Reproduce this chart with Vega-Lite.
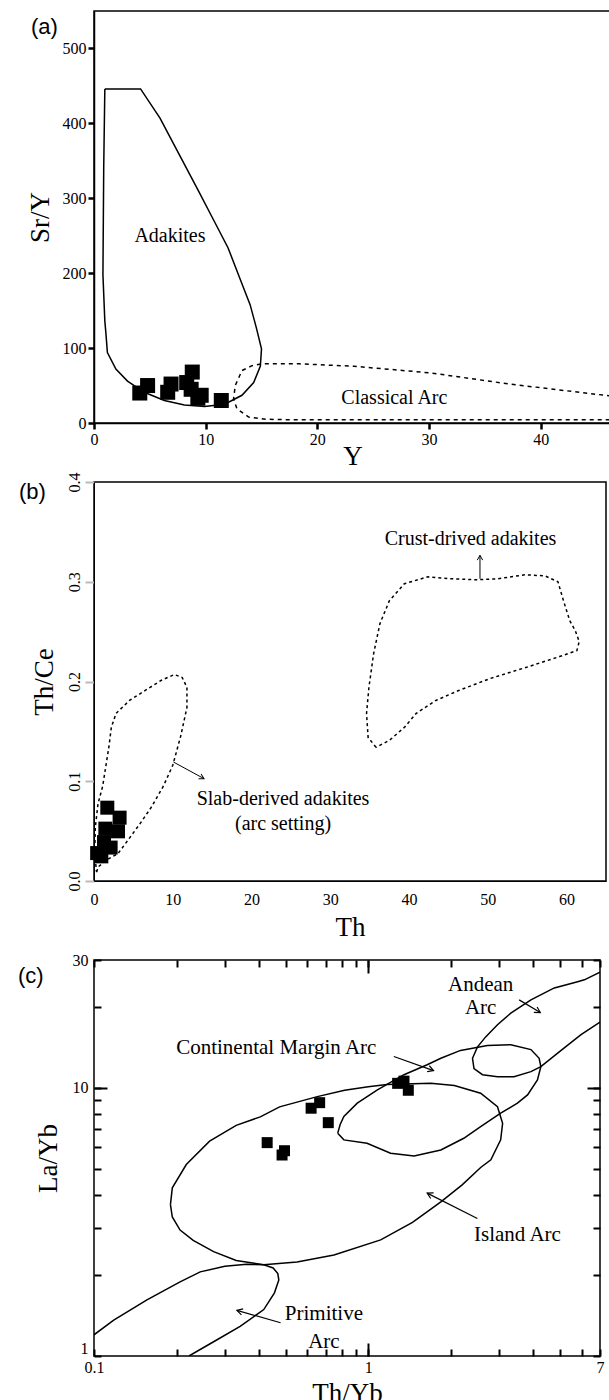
{
"$schema": "https://vega.github.io/schema/vega-lite/v6.json",
"autosize": {"type": "pad"},
"padding": {"left": 17, "top": 10, "right": 0, "bottom": 0},
"bounds": "flush",
"spacing": 59,
"config": {
  "font": "Liberation Serif",
  "view": {"stroke": "#000", "strokeWidth": 1.5},
  "axis": {"labelFont": "Liberation Serif", "titleFont": "Liberation Serif", "labelFontSize": 16, "titleFontSize": 27, "titleFontWeight": "normal", "labelColor": "#000", "titleColor": "#000", "domainColor": "#000", "tickColor": "#000", "ticks": true, "grid": false, "labelFlush": false, "labelOverlap": false},
  "title": {"font": "Liberation Sans", "fontSize": 22, "fontWeight": "normal", "color": "#000", "anchor": "start", "frame": "group"}
},
"datasets": {
  "a_adakite": [
    {"i":0,"x":0.97,"y":446},{"i":1,"x":4.17,"y":446},{"i":2,"x":5.91,"y":407},{"i":3,"x":7.65,"y":358},{"i":4,"x":9.39,"y":309},{"i":5,"x":10.78,"y":269},{"i":6,"x":12.0,"y":234},{"i":7,"x":13.04,"y":194},{"i":8,"x":13.98,"y":158},{"i":9,"x":14.54,"y":127},{"i":10,"x":15.0,"y":99},{"i":11,"x":14.9,"y":76},{"i":12,"x":14.3,"y":54},{"i":13,"x":13.25,"y":37},{"i":14,"x":11.7,"y":25},{"i":15,"x":9.9,"y":22},{"i":16,"x":8.1,"y":24},{"i":17,"x":6.3,"y":30},{"i":18,"x":4.5,"y":41},{"i":19,"x":3.0,"y":56},{"i":20,"x":1.96,"y":72},{"i":21,"x":1.2,"y":94},{"i":22,"x":1.06,"y":121},{"i":23,"x":0.97,"y":136},{"i":24,"x":0.8,"y":198},{"i":25,"x":0.87,"y":340},{"i":26,"x":0.97,"y":446}
  ],
  "a_arc": [
    {"i":0,"x":46.3,"y":36},{"i":1,"x":37.2,"y":52},{"i":2,"x":30.2,"y":66.8},{"i":3,"x":23.3,"y":75.7},{"i":4,"x":18.4,"y":79},{"i":5,"x":15.06,"y":79},{"i":6,"x":14.15,"y":76.5},{"i":7,"x":13.25,"y":70},{"i":8,"x":12.65,"y":50},{"i":9,"x":12.5,"y":32},{"i":10,"x":12.8,"y":19},{"i":11,"x":13.85,"y":8},{"i":12,"x":15.4,"y":5},{"i":13,"x":17.2,"y":4.5},{"i":14,"x":46.3,"y":4.5}
  ],
  "a_pts": [
    {"x":4.1,"y":40},{"x":4.8,"y":50},{"x":6.6,"y":41},{"x":6.9,"y":52},{"x":8.3,"y":54},{"x":8.8,"y":68},{"x":8.7,"y":45},{"x":9.3,"y":33},{"x":9.6,"y":37},{"x":11.4,"y":30}
  ],
  "a_lab": [
    {"x":6.8,"y":249,"t":"Adakites"},{"x":26.9,"y":34,"t":"Classical Arc"}
  ],
  "b_slab": [
    {"i":0,"x":0.34,"y":0.009},{"i":1,"x":0.51,"y":0.014},{"i":2,"x":1.6,"y":0.021},{"i":3,"x":3.05,"y":0.0275},{"i":4,"x":4.32,"y":0.041},{"i":5,"x":5.8,"y":0.057},{"i":6,"x":7.28,"y":0.074},{"i":7,"x":8.8,"y":0.095},{"i":8,"x":10.0,"y":0.116},{"i":9,"x":11.0,"y":0.145},{"i":10,"x":11.8,"y":0.174},{"i":11,"x":11.8,"y":0.194},{"i":12,"x":11.2,"y":0.204},{"i":13,"x":10.2,"y":0.207},{"i":14,"x":8.5,"y":0.201},{"i":15,"x":6.5,"y":0.191},{"i":16,"x":4.5,"y":0.181},{"i":17,"x":2.8,"y":0.168},{"i":18,"x":2.2,"y":0.154},{"i":19,"x":1.9,"y":0.135},{"i":20,"x":1.56,"y":0.118},{"i":21,"x":1.1,"y":0.095},{"i":22,"x":0.51,"y":0.0775},{"i":23,"x":0.17,"y":0.054},{"i":24,"x":0.1,"y":0.03},{"i":25,"x":0.29,"y":0.0107},{"i":26,"x":0.34,"y":0.009}
  ],
  "b_crust": [
    {"i":0,"x":35.8,"y":0.134},{"i":1,"x":34.8,"y":0.144},{"i":2,"x":34.6,"y":0.168},{"i":3,"x":34.9,"y":0.194},{"i":4,"x":35.5,"y":0.228},{"i":5,"x":36.3,"y":0.258},{"i":6,"x":37.5,"y":0.281},{"i":7,"x":39.4,"y":0.298},{"i":8,"x":42.4,"y":0.305},{"i":9,"x":45.3,"y":0.303},{"i":10,"x":48.3,"y":0.302},{"i":11,"x":51.3,"y":0.303},{"i":12,"x":54.7,"y":0.307},{"i":13,"x":57.2,"y":0.306},{"i":14,"x":58.9,"y":0.3},{"i":15,"x":59.6,"y":0.281},{"i":16,"x":60.4,"y":0.261},{"i":17,"x":61.1,"y":0.251},{"i":18,"x":61.6,"y":0.24},{"i":19,"x":61.3,"y":0.231},{"i":20,"x":59.1,"y":0.225},{"i":21,"x":55.2,"y":0.215},{"i":22,"x":50.3,"y":0.203},{"i":23,"x":46.3,"y":0.191},{"i":24,"x":43.4,"y":0.181},{"i":25,"x":40.9,"y":0.168},{"i":26,"x":39.4,"y":0.154},{"i":27,"x":37.5,"y":0.141},{"i":28,"x":35.8,"y":0.134}
  ],
  "b_pts": [
    {"x":1.69,"y":0.0735},{"x":3.25,"y":0.0635},{"x":3.05,"y":0.0498},{"x":1.44,"y":0.0525},{"x":1.27,"y":0.039},{"x":2.11,"y":0.0335},{"x":0.93,"y":0.0247},{"x":0.4,"y":0.028}
  ],
  "b_lab": [
    {"x":47.8,"y":0.343,"t":"Crust-drived adakites"},{"x":24,"y":0.0825,"t":"Slab-derived adakites"},{"x":24,"y":0.0575,"t":"(arc setting)"}
  ],
  "b_arrows": [
    {"a":"crust","x":49.0,"y":0.3265,"xs":49.0,"ys":0.303},
    {"a":"slab","x":13.97,"y":0.1026,"xs":10.08,"ys":0.1193}
  ],
  "c_island": [
    {"i":0,"x":0.19,"y":3.67},{"i":1,"x":0.193,"y":4.24},{"i":2,"x":0.217,"y":5.18},{"i":3,"x":0.264,"y":6.33},{"i":4,"x":0.33,"y":7.25},{"i":5,"x":0.404,"y":7.8},{"i":6,"x":0.475,"y":8.5},{"i":7,"x":0.652,"y":9.28},{"i":8,"x":0.82,"y":9.8},{"i":9,"x":1.0,"y":10.1},{"i":10,"x":1.17,"y":10.3},{"i":11,"x":1.69,"y":10.4},{"i":12,"x":2.06,"y":10.2},{"i":13,"x":2.57,"y":9.55},{"i":14,"x":2.96,"y":8.51},{"i":15,"x":3.09,"y":7.38},{"i":16,"x":3.04,"y":6.4},{"i":17,"x":2.8,"y":5.39},{"i":18,"x":2.57,"y":5.05},{"i":19,"x":2.2,"y":4.35},{"i":20,"x":1.84,"y":3.76},{"i":21,"x":1.45,"y":3.15},{"i":22,"x":1.11,"y":2.71},{"i":23,"x":0.75,"y":2.38},{"i":24,"x":0.55,"y":2.24},{"i":25,"x":0.416,"y":2.19},{"i":26,"x":0.33,"y":2.27},{"i":27,"x":0.273,"y":2.45},{"i":28,"x":0.23,"y":2.7},{"i":29,"x":0.206,"y":2.95},{"i":30,"x":0.193,"y":3.3},{"i":31,"x":0.19,"y":3.67}
  ],
  "c_cm": [
    {"i":0,"x":0.774,"y":6.78},{"i":1,"x":0.79,"y":7.3},{"i":2,"x":0.815,"y":7.82},{"i":3,"x":0.912,"y":8.77},{"i":4,"x":1.08,"y":9.83},{"i":5,"x":1.35,"y":11.2},{"i":6,"x":1.64,"y":12.2},{"i":7,"x":1.84,"y":12.9},{"i":8,"x":2.17,"y":13.8},{"i":9,"x":2.72,"y":14.4},{"i":10,"x":3.31,"y":14.5},{"i":11,"x":3.92,"y":13.9},{"i":12,"x":4.2,"y":12.9},{"i":13,"x":4.26,"y":12.0},{"i":14,"x":4.14,"y":10.7},{"i":15,"x":3.81,"y":9.42},{"i":16,"x":3.5,"y":8.77},{"i":17,"x":3.04,"y":8.05},{"i":18,"x":2.57,"y":7.17},{"i":19,"x":2.23,"y":6.49},{"i":20,"x":1.84,"y":5.87},{"i":21,"x":1.47,"y":5.57},{"i":22,"x":1.206,"y":5.71},{"i":23,"x":0.99,"y":6.22},{"i":24,"x":0.815,"y":6.4},{"i":25,"x":0.774,"y":6.78}
  ],
  "c_andean": [
    {"i":0,"x":7.0,"y":27.0},{"i":1,"x":6.14,"y":25.3},{"i":2,"x":5.8,"y":24.9},{"i":3,"x":4.77,"y":23.6},{"i":4,"x":3.92,"y":21.3},{"i":5,"x":3.31,"y":19.0},{"i":6,"x":2.96,"y":17.2},{"i":7,"x":2.68,"y":15.5},{"i":8,"x":2.5,"y":14.2},{"i":9,"x":2.4,"y":12.9},{"i":10,"x":2.43,"y":11.8},{"i":11,"x":2.61,"y":11.2},{"i":12,"x":2.96,"y":11.0},{"i":13,"x":3.4,"y":11.0},{"i":14,"x":3.92,"y":11.5},{"i":15,"x":4.26,"y":12.0},{"i":16,"x":5.05,"y":13.8},{"i":17,"x":5.97,"y":15.8},{"i":18,"x":7.0,"y":17.6}
  ],
  "c_prim": [
    {"i":0,"x":0.1,"y":1.2},{"i":1,"x":0.118,"y":1.36},{"i":2,"x":0.156,"y":1.62},{"i":3,"x":0.206,"y":1.89},{"i":4,"x":0.244,"y":2.06},{"i":5,"x":0.3,"y":2.16},{"i":6,"x":0.36,"y":2.2},{"i":7,"x":0.416,"y":2.19},{"i":8,"x":0.45,"y":2.13},{"i":9,"x":0.468,"y":2.03},{"i":10,"x":0.472,"y":1.92},{"i":11,"x":0.455,"y":1.72},{"i":12,"x":0.416,"y":1.49},{"i":13,"x":0.341,"y":1.29},{"i":14,"x":0.273,"y":1.13},{"i":15,"x":0.222,"y":1.0}
  ],
  "c_pts": [
    {"x":0.428,"y":6.25},{"x":0.485,"y":5.62},{"x":0.495,"y":5.83},{"x":0.619,"y":8.4},{"x":0.665,"y":8.81},{"x":0.715,"y":7.42},{"x":1.28,"y":10.4},{"x":1.35,"y":10.6},{"x":1.4,"y":9.8}
  ],
  "c_lab": [
    {"x":2.57,"y":24.2,"t":"Andean"},{"x":2.57,"y":19.8,"t":"Arc"},{"x":0.462,"y":14.1,"t":"Continental Margin Arc"},{"x":3.5,"y":2.83,"t":"Island Arc"},{"x":0.689,"y":1.44,"t":"Primitive"},{"x":0.689,"y":1.13,"t":"Arc"}
  ],
  "c_arrows": [
    {"a":"andean","x":4.24,"y":19.1,"xs":3.55,"ys":21.3},
    {"a":"cm","x":1.73,"y":11.6,"xs":1.24,"ys":13.1},
    {"a":"island","x":1.64,"y":4.05,"xs":2.5,"ys":3.26},
    {"a":"prim","x":0.332,"y":1.48,"xs":0.479,"ys":1.33}
  ]
},
"vconcat": [
  {
    "width": 517, "height": 412,
    "title": {"text": "(a)", "dx": -63, "dy": 28, "offset": 0},
    "encoding": {
      "x": {"field": "x", "type": "quantitative", "scale": {"domain": [0, 46.3], "nice": false, "zero": false},
            "axis": {"values": [0,10,20,30,40], "title": "Y", "tickSize": 6, "tickWidth": 2.5, "domainWidth": 1.5, "labelPadding": 2, "titlePadding": -4}},
      "y": {"field": "y", "type": "quantitative", "scale": {"domain": [0, 550], "nice": false, "zero": false},
            "axis": {"values": [0,100,200,300,400,500], "title": "Sr/Y", "tickSize": 6, "tickWidth": 2.5, "domainWidth": 1.5, "labelPadding": 2, "titlePadding": 8}}
    },
    "layer": [
      {"data": {"name": "a_adakite"}, "mark": {"type": "line", "color": "#000", "strokeWidth": 1.5, "clip": true}, "encoding": {"order": {"field": "i", "type": "quantitative"}}},
      {"data": {"name": "a_arc"}, "mark": {"type": "line", "color": "#000", "strokeWidth": 1.5, "strokeDash": [4, 4], "clip": true}, "encoding": {"order": {"field": "i", "type": "quantitative"}}},
      {"data": {"name": "a_pts"}, "mark": {"type": "point", "shape": "square", "filled": true, "size": 225, "color": "#000", "opacity": 1}},
      {"data": {"name": "a_lab"}, "mark": {"type": "text", "font": "Liberation Serif", "fontSize": 20, "color": "#000"}, "encoding": {"text": {"field": "t"}}}
    ]
  },
  {
    "bounds": "flush",
    "spacing": 79,
    "vconcat": [
      {
        "width": 512, "height": 399,
        "title": {"text": "(b)", "dx": -75, "dy": 32, "offset": 0},
        "encoding": {
          "x": {"field": "x", "type": "quantitative", "scale": {"domain": [0, 65], "nice": false, "zero": false},
                "axis": {"values": [0,10,20,30,40,50,60], "title": "Th", "ticks": false, "labelPadding": 10, "titlePadding": 7}},
          "y": {"field": "y", "type": "quantitative", "scale": {"domain": [0, 0.4], "nice": false, "zero": false},
                "axis": {"values": [0,0.1,0.2,0.3,0.4], "format": ".1f", "title": "Th/Ce", "labelAngle": -90, "labelAlign": "center", "labelBaseline": "bottom", "tickColor": "#bbbbbb", "tickSize": 9, "tickWidth": 2, "labelPadding": 3, "titlePadding": 8}}
        },
        "layer": [
          {"data": {"name": "b_slab"}, "mark": {"type": "line", "color": "#000", "strokeWidth": 1.5, "strokeDash": [3, 3], "clip": true}, "encoding": {"order": {"field": "i", "type": "quantitative"}}},
          {"data": {"name": "b_crust"}, "mark": {"type": "line", "color": "#000", "strokeWidth": 1.5, "strokeDash": [3, 3], "clip": true}, "encoding": {"order": {"field": "i", "type": "quantitative"}}},
          {"data": {"name": "b_pts"}, "mark": {"type": "point", "shape": "square", "filled": true, "size": 196, "color": "#000", "opacity": 1}},
          {"data": {"name": "b_arrows"}, "mark": {"type": "rule", "color": "#000", "strokeWidth": 1}, "encoding": {"x2": {"field": "xs"}, "y2": {"field": "ys"}}},
          {"data": {"name": "b_arrows"}, "transform": [{"filter": "datum.a == 'crust'"}], "mark": {"type": "point", "shape": "M-1.6,-0.9L0,0L-1.6,0.9", "filled": false, "size": 36, "angle": 270, "color": "#000", "strokeWidth": 1, "opacity": 1}},
          {"data": {"name": "b_arrows"}, "transform": [{"filter": "datum.a == 'slab'"}], "mark": {"type": "point", "shape": "M-1.6,-0.9L0,0L-1.6,0.9", "filled": false, "size": 36, "angle": 28, "color": "#000", "strokeWidth": 1, "opacity": 1}},
          {"data": {"name": "b_lab"}, "mark": {"type": "text", "font": "Liberation Serif", "fontSize": 20, "color": "#000"}, "encoding": {"text": {"field": "t"}}}
        ]
      },
      {
        "width": 506, "height": 396,
        "title": {"text": "(c)", "dx": -76, "dy": 36, "offset": 0},
        "resolve": {"axis": {"x": "independent", "y": "independent"}},
        "encoding": {
          "x": {"field": "x", "type": "quantitative", "scale": {"type": "log", "domain": [0.1, 7], "nice": false}, "axis": null},
          "y": {"field": "y", "type": "quantitative", "scale": {"type": "log", "domain": [1, 30], "nice": false}, "axis": null}
        },
        "layer": [
          {"data": {"name": "c_island"}, "mark": {"type": "line", "color": "#000", "strokeWidth": 1.5, "clip": true},
           "encoding": {
             "order": {"field": "i", "type": "quantitative"},
             "x": {"field": "x", "type": "quantitative", "axis": {"orient": "bottom", "title": "Th/Yb", "values": [0.1,0.2,0.3,0.4,0.5,0.6,0.7,0.8,0.9,1,2,3,4,5,6,7], "labelExpr": "datum.value == 0.1 ? '0.1' : datum.value == 1 ? '1' : datum.value == 7 ? '7' : ''", "offset": -7, "tickSize": 7, "tickWidth": 2, "domain": false, "labelPadding": 3, "titlePadding": 5}},
             "y": {"field": "y", "type": "quantitative", "axis": {"orient": "left", "title": "La/Yb", "values": [1,2,3,4,5,6,7,8,9,10,20,30], "labelExpr": "datum.value == 1 ? '1' : datum.value == 10 ? '10' : datum.value == 30 ? '30' : ''", "labelBaseline": {"condition": {"test": "datum.value == 1", "value": "bottom"}, "value": "middle"}, "offset": -7, "tickSize": 7, "tickWidth": 2, "domain": false, "labelPadding": 6, "titlePadding": 10}}
           }},
          {"data": {"name": "c_cm"}, "mark": {"type": "line", "color": "#000", "strokeWidth": 1.5, "clip": true},
           "encoding": {
             "order": {"field": "i", "type": "quantitative"},
             "x": {"field": "x", "type": "quantitative", "axis": {"orient": "bottom", "title": null, "labels": false, "domain": false, "values": [1], "offset": -13, "tickSize": 13, "tickWidth": 2}},
             "y": {"field": "y", "type": "quantitative", "axis": {"orient": "left", "title": null, "labels": false, "domain": false, "values": [10], "offset": -13, "tickSize": 13, "tickWidth": 2}}
           }},
          {"data": {"name": "c_andean"}, "mark": {"type": "line", "color": "#000", "strokeWidth": 1.5, "clip": true},
           "encoding": {
             "order": {"field": "i", "type": "quantitative"},
             "x": {"field": "x", "type": "quantitative", "axis": {"orient": "top", "title": null, "labels": false, "domain": false, "values": [1], "offset": -13, "tickSize": 13, "tickWidth": 2}},
             "y": {"field": "y", "type": "quantitative", "axis": {"orient": "right", "title": null, "labels": false, "domain": false, "values": [10], "offset": -13, "tickSize": 13, "tickWidth": 2}}
           }},
          {"data": {"name": "c_prim"}, "mark": {"type": "line", "color": "#000", "strokeWidth": 1.5, "clip": true}, "encoding": {"order": {"field": "i", "type": "quantitative"}}},
          {"data": {"name": "c_pts"}, "mark": {"type": "point", "shape": "square", "filled": true, "size": 121, "color": "#000", "opacity": 1},
           "encoding": {
             "x": {"field": "x", "type": "quantitative", "axis": {"orient": "top", "title": null, "labels": false, "domain": false, "values": [0.1,0.2,0.3,0.4,0.5,0.6,0.7,0.8,0.9,1,2,3,4,5,6,7], "offset": -7, "tickSize": 7, "tickWidth": 2}},
             "y": {"field": "y", "type": "quantitative", "axis": {"orient": "right", "title": null, "labels": false, "domain": false, "values": [1,2,3,4,5,6,7,8,9,10,20,30], "offset": -7, "tickSize": 7, "tickWidth": 2}}
           }},
          {"data": {"name": "c_arrows"}, "mark": {"type": "rule", "color": "#000", "strokeWidth": 1.2}, "encoding": {"x2": {"field": "xs"}, "y2": {"field": "ys"}}},
          {"data": {"name": "c_arrows"}, "transform": [{"filter": "datum.a == 'andean'"}], "mark": {"type": "point", "shape": "M-1.6,-0.9L0,0L-1.6,0.9", "filled": false, "size": 49, "angle": 31, "color": "#000", "strokeWidth": 1.2, "opacity": 1}},
          {"data": {"name": "c_arrows"}, "transform": [{"filter": "datum.a == 'cm'"}], "mark": {"type": "point", "shape": "M-1.6,-0.9L0,0L-1.6,0.9", "filled": false, "size": 49, "angle": 20, "color": "#000", "strokeWidth": 1.2, "opacity": 1}},
          {"data": {"name": "c_arrows"}, "transform": [{"filter": "datum.a == 'island'"}], "mark": {"type": "point", "shape": "M-1.6,-0.9L0,0L-1.6,0.9", "filled": false, "size": 49, "angle": 207, "color": "#000", "strokeWidth": 1.2, "opacity": 1}},
          {"data": {"name": "c_arrows"}, "transform": [{"filter": "datum.a == 'prim'"}], "mark": {"type": "point", "shape": "M-1.6,-0.9L0,0L-1.6,0.9", "filled": false, "size": 49, "angle": 196, "color": "#000", "strokeWidth": 1.2, "opacity": 1}},
          {"data": {"name": "c_lab"}, "mark": {"type": "text", "font": "Liberation Serif", "fontSize": 21, "color": "#000"}, "encoding": {"text": {"field": "t"}}}
        ]
      }
    ]
  }
]
}
